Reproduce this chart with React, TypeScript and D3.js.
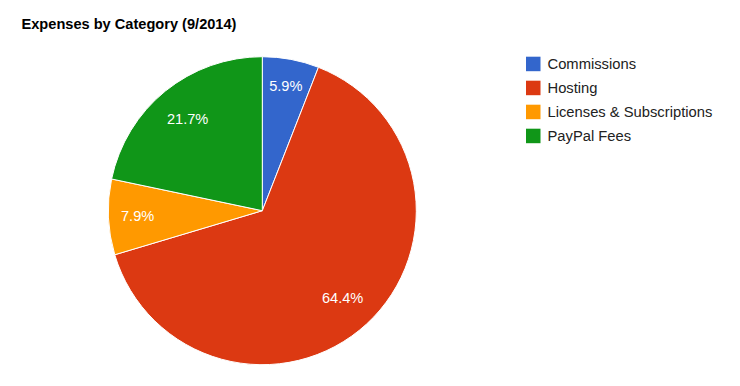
import React from "react";
import * as d3 from "d3";

const categories = ["Commissions", "Hosting", "Licenses & Subscriptions", "PayPal Fees"];
const values = [5.94, 64.44, 7.92, 21.7];
const colors = ["#3366cc", "#dc3912", "#ff9900", "#109618"];
const title = "Expenses by Category (9/2014)";

const W = 740;
const H = 386;
const cx = 262.3;
const cy = 210.7;
const R = 154;
const FONT = "Arial, 'Liberation Sans', sans-serif";

export default function App() {
  const total = d3.sum(values);
  const pie = d3.pie<number>().sort(null).value((d) => d)(values);
  const arc = d3.arc<d3.PieArcDatum<number>>().innerRadius(0).outerRadius(R);
  const fmt = d3.format(".1f");

  return (
    <svg width={W} height={H} style={{ position: "absolute", left: 0, top: 0 }} fontFamily={FONT}>
      <rect width={W} height={H} fill="#ffffff" />
      <text x={21.5} y={29} fontSize={14.6} fontWeight="bold" fill="#000000">
        {title}
      </text>
      <g transform={`translate(${cx},${cy})`}>
        {pie.map((p, i) => (
          <path key={i} d={arc(p) || ""} fill={colors[i]} stroke="#ffffff" strokeWidth={1} />
        ))}
        {pie.map((p, i) => {
          const ang = p.endAngle - p.startAngle;
          const mid = (p.startAngle + p.endAngle) / 2;
          const lr = R * (0.77 + 0.1 * Math.max(0, 0.9 - ang));
          const x = Math.sin(mid) * lr;
          const y = -Math.cos(mid) * lr;
          return (
            <text
              key={"l" + i}
              x={x}
              y={y}
              dy="0.36em"
              textAnchor="middle"
              fontSize={14.6}
              fill="#ffffff"
            >
              {fmt((p.data / total) * 100) + "%"}
            </text>
          );
        })}
      </g>
      <g>
        {categories.map((c, i) => (
          <g key={c} transform={`translate(526,${56.7 + i * 24})`}>
            <rect width={14.5} height={14.5} fill={colors[i]} />
            <text x={21.5} y={7.3} dy="0.36em" fontSize={14.75} fill="#222222">
              {c}
            </text>
          </g>
        ))}
      </g>
    </svg>
  );
}
